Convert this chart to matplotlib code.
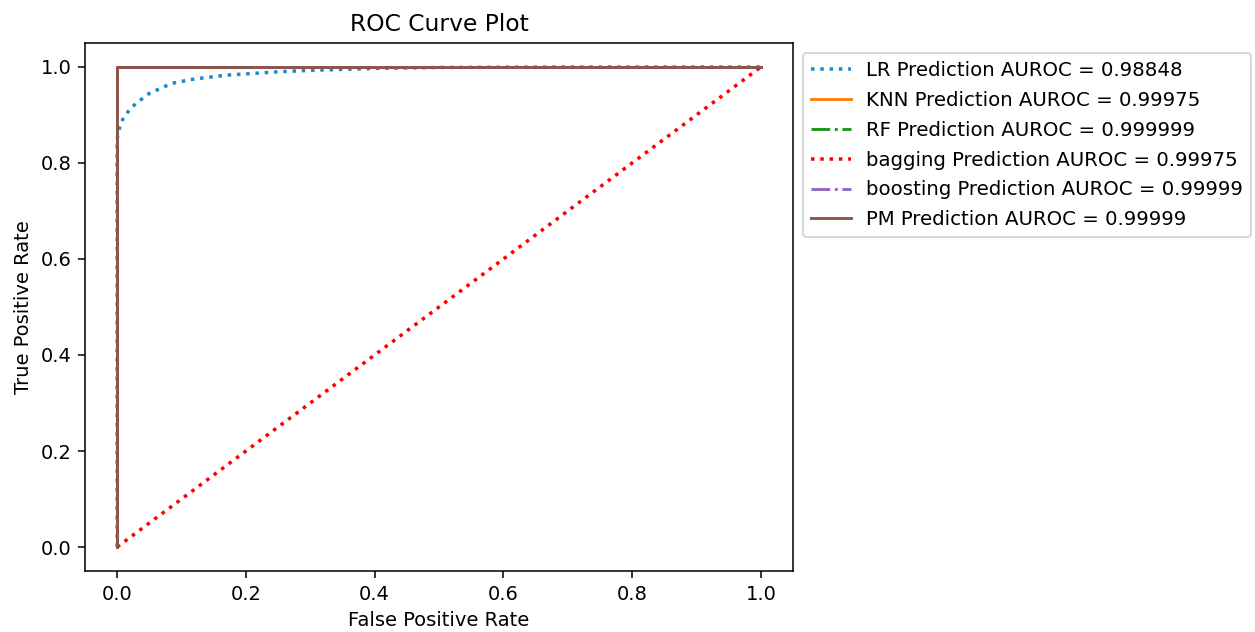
import matplotlib
matplotlib.use("Agg")
import matplotlib.pyplot as plt

# ROC points
lr_fpr = [0.0, 0.0, 0.002, 0.005, 0.01, 0.02, 0.03, 0.05, 0.085, 0.12, 0.17, 0.25, 0.3, 0.4, 0.5, 0.7, 1.0]
lr_tpr = [0.0, 0.85, 0.865, 0.879, 0.895, 0.912, 0.925, 0.945, 0.966, 0.975, 0.983, 0.990, 0.993, 0.997, 0.999, 1.0, 1.0]

perfect_fpr = [0.0, 0.0, 1.0]
perfect_tpr = [0.0, 1.0, 1.0]

bagging_fpr = [0.0, 1.0]
bagging_tpr = [0.0, 1.0]

labels = [
    "LR Prediction AUROC = 0.98848",
    "KNN Prediction AUROC = 0.99975",
    "RF Prediction AUROC = 0.999999",
    "bagging Prediction AUROC = 0.99975",
    "boosting Prediction AUROC = 0.99999",
    "PM Prediction AUROC = 0.99999",
]

fig = plt.figure(figsize=(1255 / 140, 632 / 140), dpi=140)
ax = fig.add_axes([0.0677, 0.0965, 0.5642, 0.8355])

ax.plot(lr_fpr, lr_tpr, linestyle=":", color="#1f8acb", linewidth=1.8, label=labels[0])
ax.plot(perfect_fpr, perfect_tpr, linestyle="-", color="#ff7f0e", linewidth=1.5, label=labels[1])
ax.plot(perfect_fpr, perfect_tpr, linestyle="-.", color="#1a9a1a", linewidth=1.5, label=labels[2])
ax.plot(bagging_fpr, bagging_tpr, linestyle=":", color="red", linewidth=1.8, label=labels[3])
ax.plot(perfect_fpr, perfect_tpr, linestyle="-.", color="#9467bd", linewidth=1.5, label=labels[4])
ax.plot(perfect_fpr, perfect_tpr, linestyle="-", color="#8c564b", linewidth=1.5, label=labels[5])

ax.set_title("ROC Curve Plot")
ax.set_xlabel("False Positive Rate")
ax.set_ylabel("True Positive Rate")
ax.legend(loc="upper left", bbox_to_anchor=(1, 1), fontsize=10.2, labelspacing=0.55)

fig.savefig("out.png", dpi=140)
